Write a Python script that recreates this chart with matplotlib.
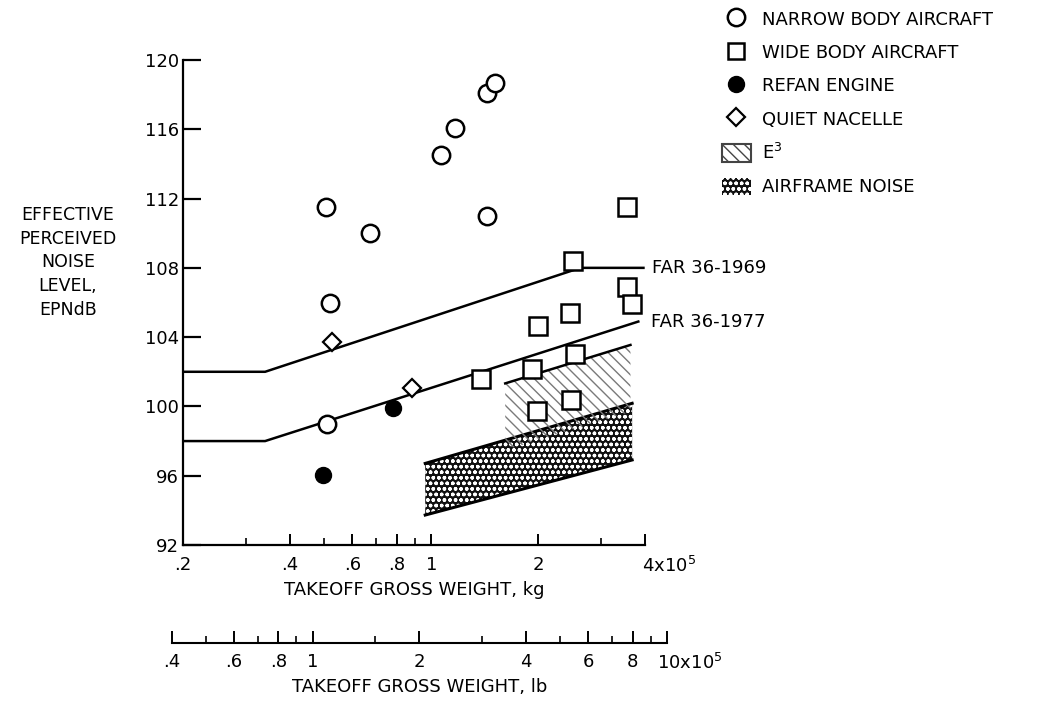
import matplotlib
matplotlib.use('Agg')
import matplotlib.pyplot as plt
from matplotlib.lines import Line2D
from matplotlib.patches import Patch
from matplotlib.ticker import FixedLocator, FixedFormatter, NullFormatter

plt.rcParams['font.family'] = ['DejaVu Sans']
plt.rcParams['font.size'] = 13
plt.rcParams['hatch.linewidth'] = 1.0

# takeoff gross weight in 10^5 kg, noise level in EPNdB
narrow_w = [0.506, 0.673, 1.067, 1.168, 1.435, 1.514, 1.435, 0.519, 0.508]
narrow_db = [111.5, 110.0, 114.5, 116.05, 118.1, 118.65, 111.0, 106.0, 99.0]
wide_w = [3.57, 2.51, 3.56, 3.68, 1.993, 2.46, 2.54, 1.921, 1.383, 1.985, 2.475]
wide_db = [111.5, 108.4, 106.9, 105.9, 104.66, 105.37, 103.03, 102.14, 101.56, 99.75, 100.37]
refan_w = [0.497, 0.783]
refan_db = [96.04, 99.9]
nacelle_w = [0.525, 0.882]
nacelle_db = [103.74, 101.04]

far69_w = [0.2, 0.3406, 2.63, 3.96]
far69_db = [102.0, 102.0, 108.0, 108.0]
far77_w = [0.2, 0.3406, 3.83]
far77_db = [98.0, 98.0, 104.9]

e3_w = [1.616, 3.64]
e3_top = [101.33, 103.55]
e3_bot = [97.48, 99.69]
airframe_w = [0.962, 3.68]
airframe_top = [96.71, 100.18]
airframe_bot = [93.73, 96.91]

y_ticks = [92, 96, 100, 104, 108, 112, 116, 120]
kg_ticks = [0.2, 0.4, 0.6, 0.8, 1, 2, 4]
kg_labels = ['.2', '.4', '.6', '.8', '1', '2', '']
kg_minor = [0.3, 0.5, 0.7, 0.9, 3]
lb_ticks = [0.4, 0.6, 0.8, 1, 2, 4, 6, 8, 10]
lb_labels = ['.4', '.6', '.8', '1', '2', '4', '6', '8', '']
lb_minor = [0.5, 0.7, 0.9, 1.5, 3, 5, 7, 9]

W, H = 1058, 709
fig = plt.figure(figsize=(W / 100, H / 100), dpi=100)

ax = fig.add_axes([183 / W, 1 - 545 / H, (645 - 183) / W, (545 - 60) / H])
ax.set_xscale('log')
ax.set_xlim(0.2, 4)
ax.set_ylim(92, 120)
for s in ['top', 'right']:
    ax.spines[s].set_visible(False)
for s in ['left', 'bottom']:
    ax.spines[s].set_linewidth(1.6)

# bands
ax.fill_between(airframe_w, airframe_bot, airframe_top, facecolor='#111111',
                edgecolor='white', hatch='ooo', linewidth=0, zorder=1)
ax.plot(airframe_w, airframe_top, color='black', lw=2.2, zorder=2)
ax.plot(airframe_w, airframe_bot, color='black', lw=2.2, zorder=2)
ax.fill_between(e3_w, e3_bot, e3_top, facecolor='none',
                edgecolor='#7a7a7a', hatch='\\\\\\', linewidth=0, zorder=2)
ax.plot(e3_w, e3_top, color='black', lw=1.8, zorder=2)

# FAR lines
ax.plot(far69_w, far69_db, color='black', lw=1.8, zorder=3)
ax.plot(far77_w, far77_db, color='black', lw=1.8, zorder=3)
ax.annotate('FAR 36-1969', xy=(far69_w[-1], far69_db[-1]), xytext=(6, 0),
            textcoords='offset points', ha='left', va='center', annotation_clip=False)
ax.annotate('FAR 36-1977', xy=(far77_w[-1], far77_db[-1]), xytext=(9, 0),
            textcoords='offset points', ha='left', va='center', annotation_clip=False)

# points
ax.plot(narrow_w, narrow_db, ls='none', marker='o', ms=12.5, mfc='white', mec='black', mew=1.8, zorder=5)
ax.plot(wide_w, wide_db, ls='none', marker='s', ms=13, mfc='white', mec='black', mew=1.8, zorder=5)
ax.plot(refan_w, refan_db, ls='none', marker='o', ms=11.5, mfc='black', mec='black', zorder=5)
ax.plot(nacelle_w, nacelle_db, ls='none', marker='D', ms=9.5, mfc='white', mec='black', mew=1.6, zorder=5)

# y axis
ax.set_yticks(y_ticks)
ax.tick_params(axis='y', direction='in', length=13, width=1.6, pad=3, labelsize=13)
ax.set_ylabel('EFFECTIVE\nPERCEIVED\nNOISE\nLEVEL,\nEPNdB', rotation=0, ha='center',
              va='center', linespacing=1.4, fontsize=12.5)
ax.yaxis.set_label_coords(-0.249, 0.5825)

# kg axis
ax.xaxis.set_major_locator(FixedLocator(kg_ticks))
ax.xaxis.set_major_formatter(FixedFormatter(kg_labels))
ax.xaxis.set_minor_locator(FixedLocator(kg_minor))
ax.xaxis.set_minor_formatter(NullFormatter())
ax.tick_params(axis='x', which='major', direction='in', length=8, width=1.4, pad=8, labelsize=13)
ax.tick_params(axis='x', which='minor', direction='in', length=5, width=1.2)
for t in ax.xaxis.get_major_ticks():
    if t.get_loc() == 1:
        t.tick1line.set_markersize(15)
ax.annotate('4x10$^5$', xy=(4, 0), xycoords=('data', 'axes fraction'), xytext=(-2, -8),
            textcoords='offset points', ha='left', va='top', fontsize=13)
ax.set_xlabel('TAKEOFF GROSS WEIGHT, kg', labelpad=5, fontsize=13)

# lb axis
axl = fig.add_axes([171.7 / W, 1 - 643 / H, (667 - 171.7) / W, 0.0001])
axl.set_xscale('log')
axl.set_xlim(0.4, 10)
axl.patch.set_visible(False)
for s in ['top', 'right', 'left']:
    axl.spines[s].set_visible(False)
axl.spines['bottom'].set_linewidth(1.5)
axl.set_yticks([])
axl.xaxis.set_major_locator(FixedLocator(lb_ticks))
axl.xaxis.set_major_formatter(FixedFormatter(lb_labels))
axl.xaxis.set_minor_locator(FixedLocator(lb_minor))
axl.xaxis.set_minor_formatter(NullFormatter())
axl.tick_params(axis='x', which='major', direction='in', length=9, width=1.4, pad=7, labelsize=13)
axl.tick_params(axis='x', which='minor', direction='in', length=5, width=1.2)
for t in axl.xaxis.get_major_ticks():
    if t.get_loc() in (0.4, 1, 10):
        t.tick1line.set_markersize(14)
axl.annotate('10x10$^5$', xy=(10, 0), xycoords=('data', 'axes fraction'), xytext=(-7, -7),
             textcoords='offset points', ha='left', va='top', fontsize=13)
axl.set_xlabel('TAKEOFF GROSS WEIGHT, lb', labelpad=5, fontsize=13)

# legend
handles = [
    Line2D([], [], ls='none', marker='o', ms=12.5, mfc='white', mec='black', mew=1.8),
    Line2D([], [], ls='none', marker='s', ms=12, mfc='white', mec='black', mew=1.8),
    Line2D([], [], ls='none', marker='o', ms=11.5, mfc='black', mec='black'),
    Line2D([], [], ls='none', marker='D', ms=9.5, mfc='white', mec='black', mew=1.6),
    Patch(facecolor='white', edgecolor='#444444', hatch='\\\\\\', linewidth=1.5),
    Patch(facecolor='#111111', edgecolor='white', hatch='ooo', linewidth=0),
]
labels = ['NARROW BODY AIRCRAFT', 'WIDE BODY AIRCRAFT', 'REFAN ENGINE',
          'QUIET NACELLE', 'E$^3$', 'AIRFRAME NOISE']
fig.legend(handles, labels, loc='upper left', bbox_to_anchor=(722 / W, 1 - 10 / H),
           frameon=False, handlelength=1.6, handleheight=1.1, handletextpad=0.6,
           labelspacing=0.8, borderaxespad=0, borderpad=0, fontsize=13)

fig.savefig('out.png', dpi=100)
